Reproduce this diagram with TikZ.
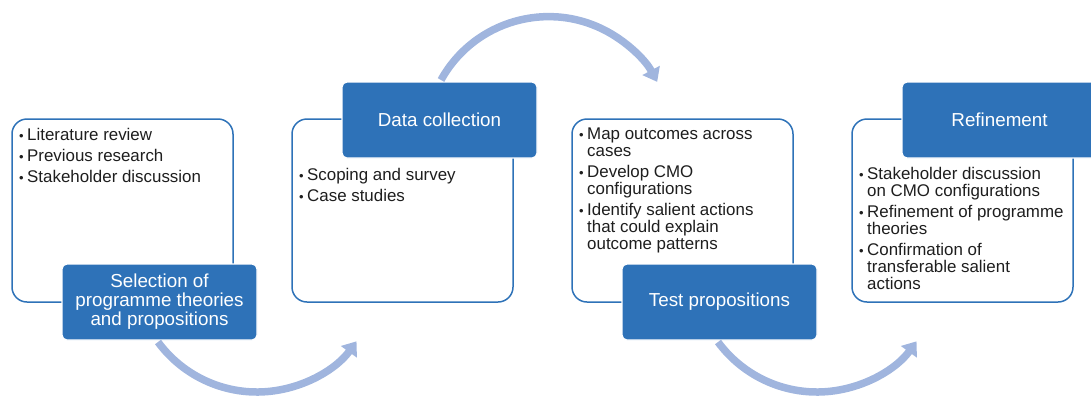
\documentclass[tikz,border=0pt]{standalone}
\usepackage{fontspec}
\setmainfont{Liberation Sans}
\usetikzlibrary{arrows.meta}
\definecolor{boxblue}{RGB}{46,114,184}
\definecolor{arcblue}{RGB}{160,181,222}
\definecolor{textgray}{RGB}{30,30,30}
\newcommand{\bitem}{\makebox[8pt][l]{\raisebox{0.2pt}{\fontsize{13}{13}\selectfont\textbullet}}}
\newcommand{\bcont}{\hspace*{8pt}}
\begin{document}
\begin{tikzpicture}[x=1pt,y=-1pt,
  panel/.style={draw=boxblue, line width=1.5pt, fill=white, rounded corners=15pt,
    anchor=north west, inner sep=0pt, outer sep=0pt, minimum width=221pt, minimum height=183pt},
  head/.style={fill=boxblue, draw=white, line width=1.2pt, rounded corners=5pt,
    anchor=north west, inner sep=0pt, outer sep=0pt, minimum width=195pt, minimum height=76pt},
  headtext/.style={text=white, align=center, font=\fontsize{18.8}{19}\selectfont, inner sep=0pt},
  bullets/.style={anchor=north west, inner sep=0pt, align=left,
    font=\fontsize{16.9}{16.9}\selectfont, text=textgray},
  flow/.style={draw=arcblue, line width=7.5pt, -{Triangle[width=19pt,length=13pt]}}
]
\useasboundingbox (0,0) rectangle (1091,397);
\clip (0,0) rectangle (1091,397);

% white panels
\node[panel] (w1) at (12,119) {};
\node[panel] (w2) at (292,119) {};
\node[panel] (w3) at (572,119) {};
\node[panel] (w4) at (852,119) {};

% blue heads
\node[head] (b1) at (62,264) {};
\node[head] (b2) at (342,82) {};
\node[head] (b3) at (622,264) {};
\node[head] (b4) at (902,82) {};

\node[headtext] (h1) at (b1.center) {Selection of\\programme theories\\and propositions};
\node[headtext] (h2) at (b2.center) {Data collection};
\node[headtext] (h3) at (b3.center) {Test propositions};
\node[headtext] (h4) at (b4.center) {Refinement};

% bullet texts
\node[bullets] (t1) at (19,128) {\bitem Literature review\\[4pt]
  \bitem Previous research\\[4pt]
  \bitem Stakeholder discussion};
\node[bullets] (t2) at (299,168) {\bitem Scoping and survey\\[4pt]
  \bitem Case studies};
\node[bullets] (t3) at (579,128) {\bitem Map outcomes across\\
  \bcont cases\\[4pt]
  \bitem Develop CMO\\
  \bcont configurations\\[4pt]
  \bitem Identify salient actions\\
  \bcont that could explain\\
  \bcont outcome patterns};
\node[bullets] (t4) at (859,167.5) {\bitem Stakeholder discussion\\
  \bcont on CMO configurations\\[4pt]
  \bitem Refinement of programme\\
  \bcont theories\\[4pt]
  \bitem Confirmation of\\
  \bcont transferable salient\\
  \bcont actions};

% flow arcs
\draw[flow] ([xshift=-1.5pt,yshift=-2pt]b1.south) arc[start angle=216.4, end angle=324, radius=123pt];
\draw[flow] ([xshift=1.5pt,yshift=2pt]b2.north) arc[start angle=151, end angle=28, radius=123pt];
\draw[flow] ([xshift=-1.5pt,yshift=-2pt]b3.south) arc[start angle=216.4, end angle=324, radius=123pt];
\end{tikzpicture}
\end{document}
